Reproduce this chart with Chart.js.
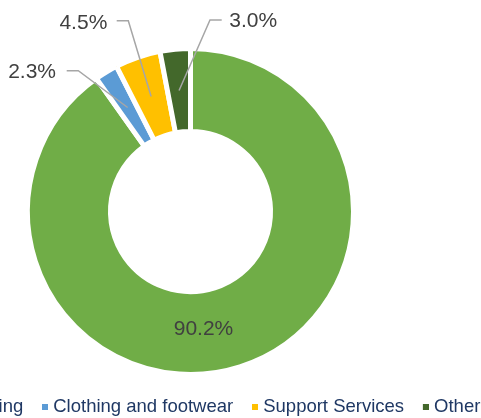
<!DOCTYPE html>
<html>
<head>
<meta charset="utf-8">
<script src="https://cdn.jsdelivr.net/npm/chart.js@4"></script>
<style>
  html, body { margin: 0; padding: 0; background: #fff; overflow: hidden; width: 481px; height: 418px; }
  .wrap { position: absolute; left: -124px; top: 0; width: 629px; height: 418px; }
</style>
</head>
<body>
<div class="wrap"><canvas id="donut"></canvas></div>
<script>
const categories = ["Manufacturing", "Clothing and footwear", "Support Services", "Other"];
const shares = [90.2, 2.3, 4.5, 3.0];
const sliceColors = ["#70AD47", "#5B9BD5", "#FFC000", "#43682B"];

// where each % label sits, relative to the ring centre
const labelSpots = [
    { dx: 13, dy: 117.5, align: "center" },
    { dx: -134.5, dy: -139.5, align: "right", elbow: [[-123.8, -140.8], [-112.2, -140.8]] },
    { dx: -83.2, dy: -188.2, align: "right", elbow: [[-73.8, -190.8], [-62.2, -190.8]] },
    { dx: 38.8, dy: -190.2, align: "left", elbow: [[31.2, -191.5], [19.5, -191.5]] }
];

// small square swatch, pushed to the right so it sits close to the text
function legendSwatch(color) {
    const c = document.createElement("canvas");
    c.width = 14;
    c.height = 6;
    const g = c.getContext("2d");
    g.fillStyle = color;
    g.fillRect(8, 0, 6, 6);
    return c;
}

const pctLabels = {
    id: "pctLabels",
    afterDatasetsDraw(chart) {
        const ctx = chart.ctx;
        const arcs = chart.getDatasetMeta(0).data;
        ctx.save();
        ctx.font = "21px 'Liberation Sans', Arial, sans-serif";
        ctx.textBaseline = "middle";
        arcs.forEach((arc, i) => {
            const spot = labelSpots[i];
            const cx = arc.x, cy = arc.y;
            if (spot.elbow) {
                const mid = arc.getCenterPoint();
                ctx.beginPath();
                ctx.moveTo(cx + spot.elbow[0][0], cy + spot.elbow[0][1]);
                ctx.lineTo(cx + spot.elbow[1][0], cy + spot.elbow[1][1]);
                ctx.lineTo(mid.x, mid.y);
                ctx.strokeStyle = "#A6A6A6";
                ctx.lineWidth = 1.5;
                ctx.stroke();
            }
            ctx.fillStyle = "#404040";
            ctx.textAlign = spot.align;
            ctx.fillText(shares[i].toFixed(1) + "%", cx + spot.dx, cy + spot.dy);
        });
        ctx.restore();
    }
};

new Chart(document.getElementById("donut"), {
    type: "doughnut",
    data: {
        labels: categories,
        datasets: [{
            data: shares,
            backgroundColor: sliceColors,
            borderColor: "#ffffff",
            borderWidth: 5
        }]
    },
    options: {
        responsive: true,
        maintainAspectRatio: false,
        animation: false,
        radius: 163,
        cutout: "49.1%",
        layout: { padding: { top: 40 } },
        plugins: {
            tooltip: { enabled: false },
            legend: {
                position: "bottom",
                align: "start",
                maxHeight: 35,
                labels: {
                    font: { family: "'Liberation Sans', Arial, sans-serif", size: 18.5 },
                    color: "#1F3864",
                    padding: 14.75,
                    boxWidth: 6,
                    usePointStyle: true,
                    generateLabels: () => categories.map((name, i) => ({
                        text: name,
                        fillStyle: sliceColors[i],
                        strokeStyle: sliceColors[i],
                        lineWidth: 0,
                        pointStyle: legendSwatch(sliceColors[i]),
                        fontColor: "#1F3864",
                        hidden: false,
                        index: i
                    }))
                }
            }
        }
    },
    plugins: [pctLabels]
});
</script>
</body>
</html>
